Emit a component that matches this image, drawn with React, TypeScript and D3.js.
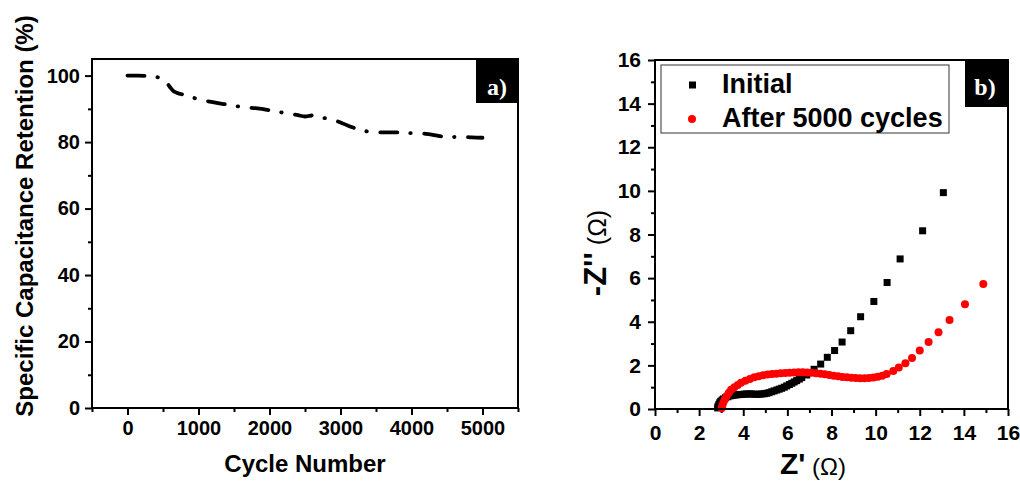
import React, { useRef, useEffect } from "react";
import * as d3 from "d3";

// panel a) capacitance retention vs cycle number
const cycles = [0, 150, 300, 450, 550, 600, 650, 700, 800, 1000, 1200, 1400, 1600, 1800, 2000, 2200, 2400, 2500, 2600, 2700, 2850, 3000, 3100, 3200, 3300, 3450, 3600, 3800, 4000, 4200, 4300, 4400, 4550, 4700, 4850, 5000];
const retention = [100, 100, 99.8, 99.4, 98, 96.5, 95.3, 94.8, 94.2, 92.9, 92.0, 91.3, 90.6, 90.2, 89.6, 88.8, 88.1, 87.7, 88.0, 87.5, 86.9, 85.9, 85.0, 84.2, 83.5, 83.1, 82.9, 82.9, 82.7, 82.5, 82.2, 81.8, 81.5, 81.6, 81.4, 81.3];

// panel b) Nyquist plot
const initialZre = [2.84, 2.86, 2.89, 2.93, 2.98, 3.04, 3.1, 3.2, 3.3, 3.4, 3.5, 3.6, 3.7, 3.82, 3.93, 4.05, 4.16, 4.27, 4.38, 4.5, 4.61, 4.73, 4.84, 4.95, 5.06, 5.17, 5.29, 5.4, 5.52, 5.63, 5.74, 5.86, 5.97, 6.09, 6.2, 6.31, 6.42, 6.54, 6.65, 6.88, 7.21, 7.51, 7.81, 8.14, 8.48, 8.87, 9.32, 9.92, 10.52, 11.11, 12.13, 13.07];
const initialZim = [0.05, 0.12, 0.2, 0.28, 0.35, 0.41, 0.46, 0.52, 0.56, 0.6, 0.62, 0.64, 0.65, 0.66, 0.67, 0.68, 0.69, 0.69, 0.69, 0.68, 0.67, 0.68, 0.69, 0.7, 0.72, 0.75, 0.79, 0.83, 0.87, 0.91, 0.95, 1.0, 1.06, 1.12, 1.18, 1.24, 1.3, 1.37, 1.44, 1.56, 1.82, 2.06, 2.37, 2.68, 3.07, 3.59, 4.23, 4.93, 5.8, 6.88, 8.17, 9.92];
const agedZre = [3.02, 3.05, 3.1, 3.17, 3.25, 3.35, 3.45, 3.6, 3.75, 3.9, 4.1, 4.3, 4.5, 4.7, 4.9, 5.1, 5.3, 5.5, 5.7, 5.9, 6.1, 6.3, 6.5, 6.7, 6.9, 7.1, 7.3, 7.5, 7.7, 7.9, 8.1, 8.3, 8.5, 8.7, 8.9, 9.1, 9.3, 9.5, 9.7, 9.9, 10.1, 10.3, 10.5, 10.8, 11.05, 11.35, 11.65, 12.0, 12.4, 12.85, 13.35, 14.05, 14.88];
const agedZim = [0.03, 0.15, 0.3, 0.45, 0.6, 0.75, 0.88, 1.0, 1.1, 1.2, 1.3, 1.38, 1.45, 1.5, 1.55, 1.58, 1.6, 1.62, 1.64, 1.65, 1.66, 1.67, 1.68, 1.68, 1.67, 1.66, 1.64, 1.62, 1.59, 1.56, 1.53, 1.5, 1.47, 1.45, 1.43, 1.42, 1.41, 1.41, 1.42, 1.44, 1.48, 1.53, 1.6, 1.74, 1.9, 2.1, 2.34, 2.68, 3.07, 3.52, 4.08, 4.8, 5.73];

const cycleTicks = [0, 1000, 2000, 3000, 4000, 5000];
const cycleMinor = [-500, 500, 1500, 2500, 3500, 4500, 5500];
const retentionTicks = [0, 20, 40, 60, 80, 100];
const retentionMinor = [10, 30, 50, 70, 90];
const zTicks = [0, 2, 4, 6, 8, 10, 12, 14, 16];
const zMinor = [1, 3, 5, 7, 9, 11, 13, 15];
const legendLabels = ["Initial", "After 5000 cycles"];

const SANS = "'Liberation Sans', Arial, sans-serif";
const SERIF = "'Liberation Serif', 'Times New Roman', serif";

const App = () => {
  const svgRef = useRef<SVGSVGElement>(null);

  useEffect(() => {
    const svg = d3.select(svgRef.current);
    svg.selectAll("*").remove();

    svg.append("rect").attr("width", 1020).attr("height", 481).attr("fill", "white");

    const styleAxis = (g: any, fontSize: number) => {
      g.select(".domain").remove();
      g.selectAll("line").attr("stroke", "black").attr("stroke-width", 2);
      g.selectAll("text")
        .attr("fill", "black")
        .style("font-family", SANS)
        .style("font-weight", "bold")
        .style("font-size", `${fontSize}px`);
    };

    // ---------- panel a ----------
    const xA = d3.scaleLinear().domain([-500, 5500]).range([92, 518]);
    const yA = d3.scaleLinear().domain([0, 105]).range([408, 59]);

    svg.append("g").attr("transform", "translate(92,0)")
      .call(d3.axisLeft(yA).tickValues(retentionMinor).tickSize(4).tickFormat(() => ""))
      .call((g) => styleAxis(g, 20));
    svg.append("g").attr("transform", "translate(92,0)")
      .call(d3.axisLeft(yA).tickValues(retentionTicks).tickSize(7).tickPadding(5))
      .call((g) => styleAxis(g, 20));
    svg.append("g").attr("transform", "translate(0,408)")
      .call(d3.axisBottom(xA).tickValues(cycleMinor).tickSize(4).tickFormat(() => ""))
      .call((g) => styleAxis(g, 20));
    svg.append("g").attr("transform", "translate(0,408)")
      .call(d3.axisBottom(xA).tickValues(cycleTicks).tickSize(7).tickPadding(6).tickFormat(d3.format("d")))
      .call((g) => styleAxis(g, 20));

    const lineA = d3.line<number>()
      .x((d, i) => xA(cycles[i]))
      .y((d) => yA(d))
      .curve(d3.curveMonotoneX);

    // dash-dot line
    svg.append("path")
      .datum(retention)
      .attr("fill", "none")
      .attr("stroke", "black")
      .attr("stroke-width", 3.8)
      .attr("stroke-linecap", "round")
      .attr("stroke-dasharray", "17 13 0.5 13.5")
      .attr("d", lineA);

    svg.append("rect")
      .attr("x", 92).attr("y", 59).attr("width", 426).attr("height", 349)
      .attr("fill", "none").attr("stroke", "black").attr("stroke-width", 2);

    svg.append("rect").attr("x", 476).attr("y", 59).attr("width", 42).attr("height", 44).attr("fill", "black");
    svg.append("text")
      .attr("x", 497).attr("y", 95).attr("text-anchor", "middle")
      .attr("fill", "white").style("font-family", SERIF).style("font-weight", "bold").style("font-size", "24px")
      .text("a)");

    svg.append("text")
      .attr("transform", "translate(33,216) rotate(-90)")
      .attr("text-anchor", "middle")
      .style("font-family", SANS).style("font-weight", "bold").style("font-size", "24px")
      .text("Specific Capacitance Retention (%)");

    svg.append("text")
      .attr("x", 305).attr("y", 472).attr("text-anchor", "middle")
      .style("font-family", SANS).style("font-weight", "bold").style("font-size", "24px")
      .text("Cycle Number");

    // ---------- panel b ----------
    const xB = d3.scaleLinear().domain([0, 16]).range([655, 1008]);
    const yB = d3.scaleLinear().domain([0, 16]).range([409, 60]);

    svg.append("g").attr("transform", "translate(655,0)")
      .call(d3.axisLeft(yB).tickValues(zMinor).tickSize(4).tickFormat(() => ""))
      .call((g) => styleAxis(g, 21));
    svg.append("g").attr("transform", "translate(655,0)")
      .call(d3.axisLeft(yB).tickValues(zTicks).tickSize(7).tickPadding(7))
      .call((g) => styleAxis(g, 21));
    svg.append("g").attr("transform", "translate(0,409)")
      .call(d3.axisBottom(xB).tickValues(zMinor).tickSize(4).tickFormat(() => ""))
      .call((g) => styleAxis(g, 21));
    svg.append("g").attr("transform", "translate(0,409)")
      .call(d3.axisBottom(xB).tickValues(zTicks).tickSize(7).tickPadding(9))
      .call((g) => styleAxis(g, 21));

    svg.append("g")
      .selectAll("rect")
      .data(initialZre)
      .join("rect")
      .attr("x", (d) => xB(d) - 3.5)
      .attr("y", (d, i) => yB(initialZim[i]) - 3.5)
      .attr("width", 7)
      .attr("height", 7)
      .attr("fill", "black");

    svg.append("g")
      .selectAll("circle")
      .data(agedZre)
      .join("circle")
      .attr("cx", (d) => xB(d))
      .attr("cy", (d, i) => yB(agedZim[i]))
      .attr("r", 4)
      .attr("fill", "#ff0000");

    svg.append("rect")
      .attr("x", 655).attr("y", 60).attr("width", 353).attr("height", 349)
      .attr("fill", "none").attr("stroke", "black").attr("stroke-width", 2);

    // legend
    svg.append("rect")
      .attr("x", 661).attr("y", 65).attr("width", 288).attr("height", 68)
      .attr("fill", "white").attr("stroke", "#555").attr("stroke-width", 1.2);
    svg.append("rect").attr("x", 689).attr("y", 81.5).attr("width", 7).attr("height", 7).attr("fill", "black");
    svg.append("circle").attr("cx", 692).attr("cy", 119).attr("r", 4).attr("fill", "#ff0000");
    legendLabels.forEach((label, i) => {
      svg.append("text")
        .attr("x", 722).attr("y", 93 + i * 34)
        .style("font-family", SANS).style("font-weight", "bold").style("font-size", "27px")
        .text(label);
    });

    svg.append("rect").attr("x", 965).attr("y", 60).attr("width", 43).attr("height", 47).attr("fill", "black");
    svg.append("text")
      .attr("x", 985).attr("y", 95).attr("text-anchor", "middle")
      .attr("fill", "white").style("font-family", SERIF).style("font-weight", "bold").style("font-size", "24px")
      .text("b)");

    const yTitle = svg.append("text")
      .attr("transform", "translate(606,253) rotate(-90)")
      .attr("text-anchor", "middle")
      .style("font-family", SANS);
    yTitle.append("tspan").style("font-weight", "bold").style("font-size", "31px").text("-Z''");
    yTitle.append("tspan").style("font-size", "25px").text(" (\u03A9)");

    const xTitle = svg.append("text")
      .attr("x", 813).attr("y", 474).attr("text-anchor", "middle")
      .style("font-family", SANS);
    xTitle.append("tspan").style("font-weight", "bold").style("font-size", "30px").text("Z'");
    xTitle.append("tspan").attr("dy", 1).style("font-size", "24px").text(" (\u03A9)");
  }, []);

  return (
    <svg
      ref={svgRef}
      width={1020}
      height={481}
      style={{ position: "absolute", left: 0, top: 0 }}
    ></svg>
  );
};

export default App;
